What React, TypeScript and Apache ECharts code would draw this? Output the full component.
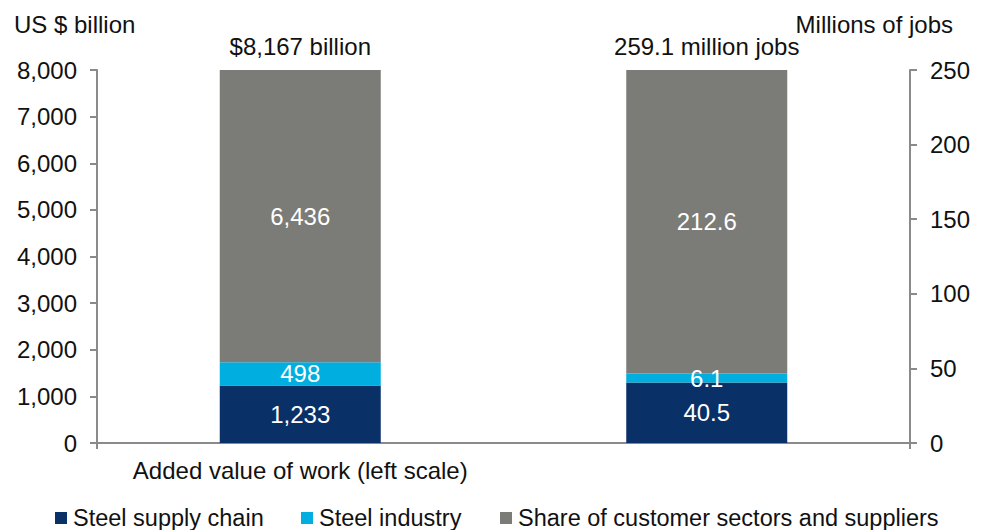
import React, { useEffect, useRef } from "react";
import * as echarts from "echarts";

const categories = ["Added value of work (left scale)", "Number of jobs (right scale)"];
const seriesNames = ["Steel supply chain", "Steel industry", "Share of customer sectors and suppliers"];
// left-scale bar (US $ billion)
const valueAdded = [1233, 498, 6436];
// right-scale bar (millions of jobs)
const jobs = [40.5, 6.1, 212.6];
const totalLabels = ["$8,167 billion", "259.1 million jobs"];
const leftAxisTitle = "US $ billion";
const rightAxisTitle = "Millions of jobs";
const leftMax = 8000;
const leftInterval = 1000;
const rightMax = 250;
const rightInterval = 50;

const colors = ["#0a3068", "#00afe0", "#7b7b77"];
const FONT = "'Liberation Sans', Arial, sans-serif";
const FS = 24;

export default function App() {
  const ref = useRef<HTMLDivElement>(null);
  useEffect(() => {
    if (!ref.current) return;
    const chart = echarts.init(ref.current, undefined, { renderer: "svg" });
    const fmtL = (v: number) => v.toLocaleString("en-US");
    const series: any[] = [];
    seriesNames.forEach((name, i) => {
      series.push({
        name,
        type: "bar",
        yAxisIndex: 0,
        stack: "left",
        barWidth: 161,
        barGap: "-100%",
        data: [valueAdded[i], "-"],
        itemStyle: { color: colors[i] },
        label: {
          show: true,
          position: "inside",
          color: "#ffffff",
          fontFamily: FONT,
          fontSize: FS,
          formatter: (p: any) => fmtL(p.value),
        },
      });
    });
    seriesNames.forEach((name, i) => {
      series.push({
        name,
        type: "bar",
        yAxisIndex: 1,
        stack: "right",
        barWidth: 161,
        barGap: "-100%",
        data: ["-", jobs[i]],
        itemStyle: { color: colors[i] },
        label: {
          show: true,
          position: "inside",
          color: "#ffffff",
          fontFamily: FONT,
          fontSize: FS,
          formatter: (p: any) => String(p.value),
        },
      });
    });
    const legendLefts = [55, 301, 500];
    const legends = seriesNames.map((name, i) => ({
      data: [name],
      left: legendLefts[i],
      top: 506,
      icon: "rect",
      itemWidth: 12,
      itemHeight: 12,
      itemGap: 0,
      padding: 0,
      textStyle: { fontFamily: FONT, fontSize: 23.5, lineHeight: 24, color: "#111", padding: [0, 0, 0, 1] },
      selectedMode: false,
    }));
    const axisLine = { show: true, lineStyle: { color: "#8a8a8a", width: 2 } };
    chart.setOption({
      animation: false,
      textStyle: { fontFamily: FONT },
      grid: { left: 97, right: 72, top: 70, bottom: 87 },
      legend: legends,
      xAxis: {
        type: "category",
        data: categories,
        axisLine,
        axisTick: { show: true, length: 6, lineStyle: { color: "#8a8a8a", width: 2 } },
        axisLabel: { fontFamily: FONT, fontSize: FS, color: "#111", margin: 15 },
      },
      yAxis: [
        {
          type: "value",
          min: 0,
          max: leftMax,
          interval: leftInterval,
          axisLine,
          axisTick: { show: true, length: 7, lineStyle: { color: "#8a8a8a", width: 2 } },
          splitLine: { show: false },
          axisLabel: {
            fontFamily: FONT,
            fontSize: FS,
            color: "#111",
            margin: 20,
            formatter: (v: number) => fmtL(v),
          },
        },
        {
          type: "value",
          min: 0,
          max: rightMax,
          interval: rightInterval,
          position: "right",
          axisLine,
          axisTick: { show: true, length: 7, lineStyle: { color: "#8a8a8a", width: 2 } },
          splitLine: { show: false },
          axisLabel: { fontFamily: FONT, fontSize: FS, color: "#111", margin: 20 },
        },
      ],
      series,
    });
    const x0 = chart.convertToPixel({ xAxisIndex: 0 }, categories[0]) as number;
    const x1 = chart.convertToPixel({ xAxisIndex: 0 }, categories[1]) as number;
    const yTopL = chart.convertToPixel({ yAxisIndex: 0 }, leftMax) as number;
    const yTopR = chart.convertToPixel({ yAxisIndex: 1 }, rightMax) as number;
    chart.setOption({
      graphic: [
        {
          type: "text",
          x: x0,
          y: yTopL - 12,
          style: { text: totalLabels[0], fontFamily: FONT, fontSize: FS, fill: "#111", align: "center", verticalAlign: "bottom" },
        },
        {
          type: "text",
          x: x1,
          y: yTopR - 12,
          style: { text: totalLabels[1], fontFamily: FONT, fontSize: FS, fill: "#111", align: "center", verticalAlign: "bottom" },
        },
        {
          type: "text",
          x: 14,
          y: 24,
          style: { text: leftAxisTitle, fontFamily: FONT, fontSize: FS, fill: "#111", align: "left", verticalAlign: "middle" },
        },
        {
          type: "text",
          x: 953,
          y: 24,
          style: { text: rightAxisTitle, fontFamily: FONT, fontSize: FS, fill: "#111", align: "right", verticalAlign: "middle" },
        },
      ],
    });
    return () => chart.dispose();
  }, []);
  return (
    <div
      ref={ref}
      style={{ position: "fixed", left: 0, top: 0, width: 982, height: 530, background: "#ffffff" }}
    />
  );
}
